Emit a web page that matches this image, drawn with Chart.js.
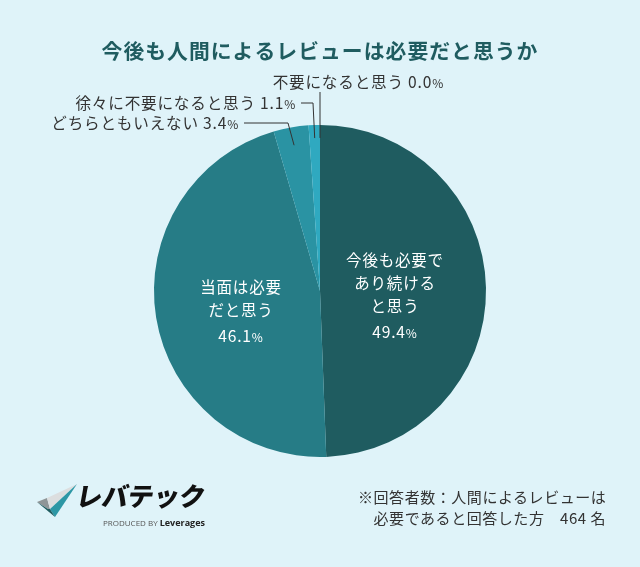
<!DOCTYPE html>
<html lang="ja">
<head>
<meta charset="utf-8">
<title>今後も人間によるレビューは必要だと思うか</title>
<script src="https://cdn.jsdelivr.net/npm/chart.js@4"></script>
<style>
    html, body { margin: 0; padding: 0; background: #dff3f9; }
    #wrap { position: relative; width: 640px; height: 567px; overflow: hidden; font-family: "Noto Sans CJK JP", sans-serif; }
    #resultChart { position: absolute; left: 0; top: 0; }
    .note { position: absolute; left: 358px; top: 486px; color: #333; font-size: 15px; line-height: 21px; letter-spacing: 0.55px; white-space: pre; }
    .logo { position: absolute; left: 36px; top: 482px; }
    .logo svg { position: absolute; left: 0; top: 0; }
    .logo-name { position: absolute; left: 41px; top: -6px; font-size: 26px; font-weight: 900; color: #111; transform: skewX(-10deg); letter-spacing: -0.3px; white-space: nowrap; }
    .logo-sub { position: absolute; left: 67px; top: 34px; font-size: 8px; color: #555; white-space: nowrap; font-family: "Open Sans", sans-serif; }
    .logo-sub b { color: #222; font-size: 9px; }
</style>
</head>
<body>
<div id="wrap">
    <canvas id="resultChart" width="640" height="567"></canvas>
    <div class="logo">
        <svg width="44" height="40" viewBox="0 0 44 40">
            <polygon points="1,20 11,16 14,27 12,27" fill="#8f9597"/>
            <polygon points="11,16 41,2 14,27" fill="#dcdedf"/>
            <polygon points="41,2 19,35 14,27" fill="#2d97a5"/>
            <polygon points="1,20 19,35 14,27 12,27" fill="#1f5c60"/>
        </svg>
        <div class="logo-name">レバテック</div>
        <div class="logo-sub">PRODUCED BY <b>Leverages</b></div>
    </div>
    <div class="note">※回答者数：人間によるレビューは
　必要であると回答した方　464 名</div>
</div>
<script>
const chartTitle = '今後も人間によるレビューは必要だと思うか';
const categories = ['今後も必要であり続けると思う', '当面は必要だと思う', 'どちらともいえない', '徐々に不要になると思う', '不要になると思う'];
const insideLines = [['今後も必要で', 'あり続ける', 'と思う'], ['当面は必要', 'だと思う'], null, null, null];
const shares = [49.4, 46.1, 3.4, 1.1, 0.0];
const sliceColors = ['#1f5c60', '#267c86', '#2a93a3', '#2fa9c0', '#2fa9c0'];

const FONT = '"Noto Sans CJK JP", sans-serif';
const OUT_SIZE = '15.6px ';

// draws "3.4" with a smaller % after it
function drawValue(ctx, value, x, y, color, align) {
    const num = value.toFixed(1);
    ctx.fillStyle = color;
    ctx.textBaseline = 'middle';
    ctx.textAlign = 'left';
    ctx.font = OUT_SIZE + FONT;
    const w1 = ctx.measureText(num).width;
    ctx.font = '12px ' + FONT;
    const w2 = ctx.measureText('%').width;
    const left = align === 'center' ? x - (w1 + w2) / 2 : x;
    ctx.font = OUT_SIZE + FONT;
    ctx.fillText(num, left, y);
    ctx.font = '12px ' + FONT;
    ctx.fillText('%', left + w1, y + 1);
}

const sliceLabels = {
    id: 'sliceLabels',
    beforeDraw(chart) {
        // title is spaced out a little in the original
        chart.ctx.letterSpacing = '1.05px';
    },
    afterDatasetsDraw(chart) {
        const ctx = chart.ctx;
        const arcs = chart.getDatasetMeta(0).data;
        ctx.save();
        ctx.letterSpacing = '0.8px';

        // labels inside the two big slices
        const inside = [
            { i: 0, dx: 75, firstY: -31, valueY: 41 },
            { i: 1, dx: -79, firstY: -4, valueY: 45 }
        ];
        inside.forEach(o => {
            const x = arcs[o.i].x + o.dx;
            ctx.font = '15.5px ' + FONT;
            ctx.fillStyle = '#ffffff';
            ctx.textAlign = 'center';
            ctx.textBaseline = 'middle';
            insideLines[o.i].forEach((line, n) => ctx.fillText(line, x, arcs[o.i].y + o.firstY + n * 23));
            drawValue(ctx, shares[o.i], x, arcs[o.i].y + o.valueY, '#ffffff', 'center');
        });

        // outside labels with leader lines
        const outside = [
            { i: 2, textRight: 239, textY: 123, elbowX: 288, lineY: 123, inset: 18 },
            { i: 3, textRight: 296, textY: 103, elbowX: 313, lineY: 103, inset: 13 },
            { i: 4, textRight: 444, textY: 82, elbowX: null, lineY: 92, inset: 13 }
        ];
        outside.forEach(o => {
            const arc = arcs[o.i];
            const mid = (arc.startAngle + arc.endAngle) / 2;
            const r = arc.outerRadius - o.inset;
            const ex = arc.x + Math.cos(mid) * r;
            const ey = arc.y + Math.sin(mid) * r;
            const label = categories[o.i] + ' ';
            const num = shares[o.i].toFixed(1);

            ctx.font = OUT_SIZE + FONT;
            const numW = ctx.measureText(num).width;
            const labW = ctx.measureText(label).width;
            ctx.font = '12px ' + FONT;
            const pctW = ctx.measureText('%').width;
            const left = o.textRight - pctW - numW - labW;

            ctx.font = OUT_SIZE + FONT;
            ctx.fillStyle = '#333333';
            ctx.textAlign = 'left';
            ctx.textBaseline = 'middle';
            ctx.fillText(label, left, o.textY);
            drawValue(ctx, shares[o.i], left + labW, o.textY, '#333333', 'left');

            ctx.strokeStyle = '#333333';
            ctx.lineWidth = 1;
            ctx.beginPath();
            if (o.elbowX === null) {
                ctx.moveTo(ex, o.lineY);
            } else {
                ctx.moveTo(o.textRight + 5, o.lineY);
                ctx.lineTo(o.elbowX, o.lineY);
            }
            ctx.lineTo(ex, ey);
            ctx.stroke();
        });
        ctx.restore();
    }
};

new Chart(document.getElementById('resultChart').getContext('2d'), {
    type: 'pie',
    data: {
        labels: categories,
        datasets: [{
            data: shares,
            backgroundColor: sliceColors,
            borderWidth: 0
        }]
    },
    options: {
        responsive: false,
        animation: false,
        layout: { padding: { top: 0, bottom: 110, left: 0, right: 0 } },
        plugins: {
            legend: { display: false },
            tooltip: { enabled: false },
            title: {
                display: true,
                text: chartTitle,
                color: '#1f5c60',
                font: { family: FONT, size: 20.8, weight: 'bold', lineHeight: 1.2 },
                padding: { top: 39, bottom: 61 }
            }
        }
    },
    plugins: [sliceLabels]
});
</script>
</body>
</html>
